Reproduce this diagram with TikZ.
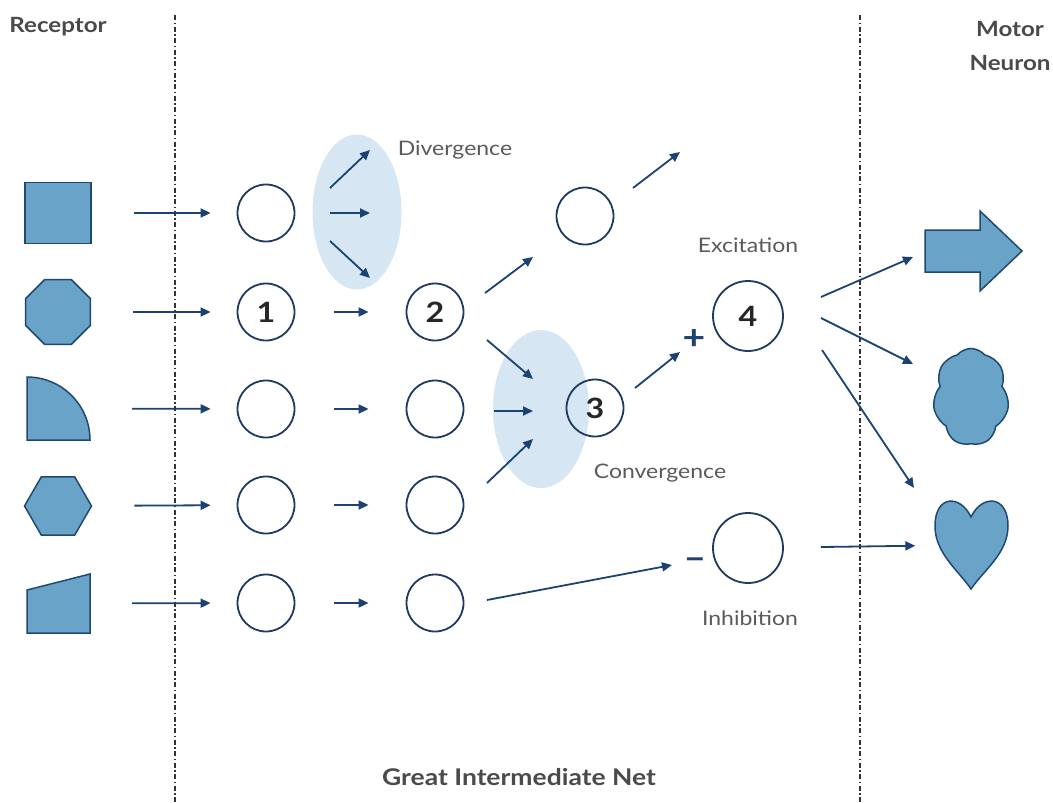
\documentclass[tikz,border=0pt]{standalone}
\usepackage{fontspec}
\setmainfont{Lato}[FakeStretch=1.15]
\usetikzlibrary{arrows.meta,shapes.geometric,shapes.symbols}
\definecolor{navy}{HTML}{1C4273}
\definecolor{ringc}{HTML}{1F3A60}
\definecolor{shapefill}{HTML}{6AA3C8}
\definecolor{shapeline}{HTML}{1E4A72}
\definecolor{halo}{HTML}{D6E6F3}
\definecolor{txt}{HTML}{5A5A5A}
\definecolor{head}{HTML}{4A4A4A}
\tikzset{
  arr/.style={navy, line width=1.8pt, -{Triangle[length=10pt,width=9pt]}},
  neuron/.style={circle, draw=ringc, line width=1.8pt, minimum size=57pt, inner sep=0pt,
     font=\fontsize{28}{28}\selectfont\bfseries, text=black!85},
  bigneuron/.style={neuron, minimum size=70pt},
  rshape/.style={fill=shapefill, draw=shapeline, line width=1.5pt},
  lbl/.style={text=txt, font=\fontsize{20}{20}\selectfont},
  hdr/.style={text=head, font=\fontsize{21}{21}\selectfont\bfseries},
  divider/.style={black!80, line width=1.3pt, dash pattern=on 5pt off 2.5pt on 1.5pt off 2.5pt},
  halostyle/.style={fill=halo, draw=none},
  sign/.style={text=navy, font=\fontsize{34}{34}\selectfont\bfseries, inner sep=0pt}
}
\begin{document}
\begin{tikzpicture}[x=1pt,y=-1pt]
\useasboundingbox (0,0) rectangle (1053,803);
% dividers
\coordinate (d1t) at (175,15); \coordinate (d1b) at (175,803);
\coordinate (d2t) at (860,15); \coordinate (d2b) at (860,803);
\draw[divider] (d1t) -- (d1b);
\draw[divider] (d2t) -- (d2b);
% headers
\node[hdr] (hrec) at (58,27) {Receptor};
\node[hdr, align=center] (hmot) at (1010,46) {Motor\\[13pt]Neuron};
\node[hdr, font=\fontsize{23}{23}\selectfont\bfseries] (hnet) at (519,777) {Great Intermediate Net};
% halos
\path[halostyle] (357,212) ellipse [x radius=44.5, y radius=77.5];
\path[halostyle] (541,409) ellipse [x radius=48, y radius=79];
% receptor shapes
\node[rshape, minimum width=66pt, minimum height=61pt, inner sep=0pt] (r1) at (58,213) {};
\node[rshape, regular polygon, regular polygon sides=8, minimum size=70pt, inner sep=0pt] (r2) at (58,312) {};
\draw[rshape] (27,440) -- (27,377) arc[start angle=-90, end angle=0, radius=63] -- cycle;
\node[minimum width=63pt, minimum height=63pt, inner sep=0pt] (r3) at (58.5,408.5) {};
\node[rshape, regular polygon, regular polygon sides=6, minimum size=67pt, inner sep=0pt] (r4) at (58,506) {};
\draw[rshape] (27,590) -- (90,574) -- (90,633) -- (27,633) -- cycle;
\node[minimum width=63pt, minimum height=59pt, inner sep=0pt] (r5) at (58.5,603.5) {};
% column 1
\node[neuron] (a1) at (266,213) {};
\node[neuron] (a2) at (266,312) {1};
\node[neuron] (a3) at (266,409) {};
\node[neuron] (a4) at (266,505) {};
\node[neuron] (a5) at (266,603) {};
% column 2
\node[neuron] (b2) at (435,312) {2};
\node[neuron] (b3) at (435,409) {};
\node[neuron] (b4) at (435,505) {};
\node[neuron] (b5) at (435,603) {};
% others
\node[neuron] (top) at (585,216) {};
\node[neuron] (c3) at (595,408) {3};
\node[bigneuron] (c4) at (748,316) {4};
\node[bigneuron] (inh) at (748,548) {};
% motor shapes
\draw[rshape] (925,230) -- (980,230) -- (980,211) -- (1022,251) -- (980,291) -- (980,272) -- (925,272) -- cycle;
\node[minimum width=97pt, minimum height=80pt, inner sep=0pt] (m1) at (973.5,251) {};
\node[rshape, cloud, cloud puffs=7, cloud puff arc=100, aspect=0.8, minimum width=76pt, minimum height=97pt, inner sep=0pt] (m2) at (971,397) {};
\draw[rshape] (971,517) .. controls (960,494) and (935,495) .. (935,526) .. controls (935,553) and (958,570) .. (971,589) .. controls (984,570) and (1008,553) .. (1008,526) .. controls (1008,495) and (982,494) .. (971,517) -- cycle;
\node[minimum width=73pt, minimum height=90pt, inner sep=0pt] (m3) at (971,545) {};
% labels
\node[lbl] (ldiv) at (455,150) {Divergence};
\node[lbl] (lcon) at (660,473) {Convergence};
\node[lbl] (lexc) at (748,245) {Excitation};
\node[lbl] (linh) at (750,618) {Inhibition};
\node[sign] (plus) at (694,340) {+};
\node[sign] (minus) at (695,564) {–};
% receptor -> column 1
\draw[arr, shorten <=42pt, shorten >=26pt] (r1) -- (a1);
\draw[arr, shorten <=42pt, shorten >=26pt] (r2) -- (a2);
\draw[arr, shorten <=42pt, shorten >=26pt] (r3) -- (a3);
\draw[arr, shorten <=42pt, shorten >=26pt] (r4) -- (a4);
\draw[arr, shorten <=42pt, shorten >=26pt] (r5) -- (a5);
% column1 -> column2
\draw[arr, shorten <=39pt, shorten >=37pt] (a2) -- (b2);
\draw[arr, shorten <=39pt, shorten >=37pt] (a3) -- (b3);
\draw[arr, shorten <=39pt, shorten >=37pt] (a4) -- (b4);
\draw[arr, shorten <=39pt, shorten >=37pt] (a5) -- (b5);
% divergence
\coordinate (dv1s) at (330,188); \coordinate (dv1e) at (370,150);
\coordinate (dv2s) at (330,213); \coordinate (dv2e) at (370,213);
\coordinate (dv3s) at (330,241); \coordinate (dv3e) at (370,278);
\draw[arr] (dv1s) -- (dv1e);
\draw[arr] (dv2s) -- (dv2e);
\draw[arr] (dv3s) -- (dv3e);
% 2 -> top circle, top -> out
\coordinate (t1s) at (485,293); \coordinate (t1e) at (533,257);
\draw[arr] (t1s) -- (t1e);
\coordinate (t2s) at (633,188); \coordinate (t2e) at (680,152);
\draw[arr] (t2s) -- (t2e);
% convergence
\coordinate (cv1s) at (487,340); \coordinate (cv1e) at (533,379);
\coordinate (cv2s) at (494,411); \coordinate (cv2e) at (533,411);
\coordinate (cv3s) at (487,483); \coordinate (cv3e) at (533,439);
\draw[arr] (cv1s) -- (cv1e);
\draw[arr] (cv2s) -- (cv2e);
\draw[arr] (cv3s) -- (cv3e);
% 3 -> excitation
\coordinate (e1s) at (635,388); \coordinate (e1e) at (680,352);
\draw[arr] (e1s) -- (e1e);
% inhibition input
\coordinate (i1s) at (487,600); \coordinate (i1e) at (672,565);
\draw[arr] (i1s) -- (i1e);
% 4 -> motors
\coordinate (o1s) at (821,297); \coordinate (o1e) at (913,257);
\coordinate (o2s) at (821,318); \coordinate (o2e) at (913,364);
\coordinate (o3s) at (822,350); \coordinate (o3e) at (914,488);
\draw[arr] (o1s) -- (o1e);
\draw[arr] (o2s) -- (o2e);
\draw[arr] (o3s) -- (o3e);
\draw[arr, shorten <=37pt, shorten >=19pt] (inh) -- (m3);
\end{tikzpicture}
\end{document}
